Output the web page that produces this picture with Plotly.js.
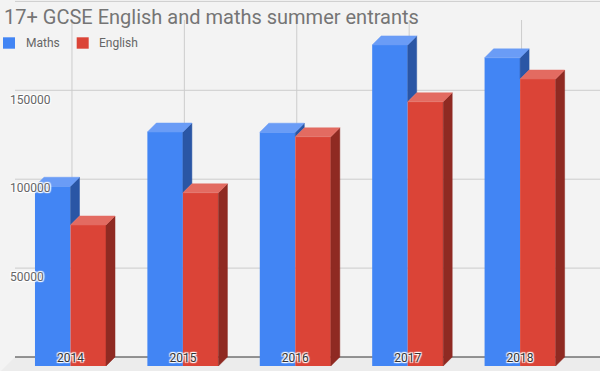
<!DOCTYPE html>
<html>
<head>
<meta charset="utf-8">
<script src="https://cdn.plot.ly/plotly-3.0.1.min.js"></script>
<style>html,body{margin:0;padding:0;background:#f3f3f3;}#chart{width:600px;height:371px;}</style>
</head>
<body>
<div id="chart"></div>
<script>
// ---- data ----
const years = ['2014', '2015', '2016', '2017', '2018'];
const maths = [101100, 131600, 131500, 180600, 173300];
const english = [79300, 97400, 128900, 148600, 161400];
const seriesNames = ['Maths', 'English'];
const yTickVals = [50000, 100000, 150000];
const gridVals = [50000, 100000, 150000, 200000];
const chartTitle = '17+ GCSE English and maths summer entrants';

// ---- styling / geometry constants ----
const W = 600, H = 371;
const BAR_W = 0.316;      // bar width in category units
const DX = 0.080;         // 3D depth (x, category units)
const DY = 5062;          // 3D depth (y, value units)
const colors = {
  maths: {front: '#4285f4', top: '#6a9cf6', side: '#2a56a5'},
  english: {front: '#db4437', top: '#e36b61', side: '#8f2a22'}
};
const shadow = '1px 1px 1px #fff, -1px -1px 1px #fff, 1px -1px 1px #fff, -1px 1px 1px #fff, 0 0 2px #fff';
const idx = years.map((_, i) => i);
const px = v => 1 - v / H; // pixel row -> paper y

function topFace(vals, off) {
  const xs = [], ys = [];
  vals.forEach((v, i) => {
    const x0 = i + off, x1 = x0 + BAR_W;
    xs.push(x0, x1, x1 + DX, x0 + DX, x0, null);
    ys.push(v, v, v + DY, v + DY, v, null);
  });
  return {xs, ys};
}
function sideFace(vals, lows, off) {
  const xs = [], ys = [];
  vals.forEach((v, i) => {
    const lo = Math.min(lows[i], v);
    const x1 = i + off + BAR_W;
    xs.push(x1, x1, x1 + DX, x1 + DX, x1, null);
    ys.push(lo, v, v + DY, lo + DY, lo, null);
  });
  return {xs, ys};
}
function faceTrace(f, color) {
  return {type: 'scatter', mode: 'lines', x: f.xs, y: f.ys, fill: 'toself',
    fillcolor: color, line: {color: color, width: 0.5}, hoverinfo: 'skip', showlegend: false};
}

const traces = [
  {type: 'bar', name: seriesNames[0], x: idx, y: maths, width: BAR_W, offset: -BAR_W,
   marker: {color: colors.maths.front, line: {width: 0}}, hoverinfo: 'skip', showlegend: false},
  {type: 'bar', name: seriesNames[1], x: idx, y: english, width: BAR_W, offset: 0,
   marker: {color: colors.english.front, line: {width: 0}}, hoverinfo: 'skip', showlegend: false},
  faceTrace(sideFace(maths, english, -BAR_W), colors.maths.side),
  faceTrace(topFace(maths, -BAR_W), colors.maths.top),
  faceTrace(sideFace(english, english.map(() => 0), 0), colors.english.side),
  faceTrace(topFace(english, 0), colors.english.top)
];

const shapes = [];
// floor
shapes.push({type: 'path', xref: 'paper', yref: 'paper', layer: 'below',
  path: `M ${15/W},${px(357)} L 1,${px(357)} L 1,0 L ${1/W},0 Z`,
  fillcolor: '#ececec', line: {width: 0}});
// back-wall horizontal gridlines
gridVals.forEach(g => shapes.push({type: 'line', xref: 'paper', yref: 'y', layer: 'below',
  x0: 15 / W, x1: 1, y0: g + DY, y1: g + DY, line: {color: '#cccccc', width: 1}}));
// back-wall vertical gridlines
idx.forEach(i => shapes.push({type: 'line', xref: 'x', yref: 'y', layer: 'below',
  x0: i + 0.013, x1: i + 0.013, y0: DY, y1: 194600, line: {color: '#cccccc', width: 1}}));
// baseline
shapes.push({type: 'line', xref: 'paper', yref: 'y', layer: 'below',
  x0: 15 / W, x1: 1, y0: DY, y1: DY, line: {color: '#333333', width: 1}});
// legend keys
const legendKeyX = [3, 76.7];
[colors.maths.front, colors.english.front].forEach((c, k) => shapes.push({type: 'rect',
  xref: 'paper', yref: 'paper', x0: legendKeyX[k] / W, x1: (legendKeyX[k] + 12) / W,
  y0: px(48.7), y1: px(37.3), fillcolor: c, line: {width: 0}}));

const legendTextX = [24, 97];
const annotations = seriesNames.map((n, k) => ({text: n, xref: 'paper', yref: 'paper',
  x: legendTextX[k] / W, y: px(43), xanchor: 'left', yanchor: 'middle', showarrow: false,
  font: {family: 'Roboto', size: 12, color: '#666666'}}));

const layout = {
  width: W, height: H,
  margin: {l: 0, r: 0, t: 0, b: 0, pad: 0},
  paper_bgcolor: '#f3f3f3', plot_bgcolor: 'rgba(0,0,0,0)',
  font: {family: 'Roboto'},
  title: {text: chartTitle, x: 4 / W, xanchor: 'left', xref: 'paper',
    y: 1 - 17 / H, yanchor: 'middle', yref: 'container',
    font: {family: 'Roboto', size: 20, color: '#757575'}},
  barmode: 'overlay',
  showlegend: false,
  xaxis: {range: [-0.6272, 4.7109], tickvals: idx, ticktext: years, showgrid: false,
    zeroline: false, showline: false, ticks: '', ticklabelposition: 'inside',
    ticklabelstandoff: 4, tickfont: {family: 'Roboto', size: 12, color: '#333333', shadow: shadow}},
  yaxis: {range: [-2812, 205849], tickvals: yTickVals, ticktext: yTickVals.map(String),
    showgrid: false, zeroline: false, showline: false, ticks: '', ticklabelposition: 'inside',
    ticklabelstandoff: 7, tickfont: {family: 'Roboto', size: 12, color: '#666666', shadow: shadow}},
  shapes: shapes,
  annotations: annotations
};

Plotly.newPlot('chart', traces, layout, {staticPlot: true});
</script>
</body>
</html>
